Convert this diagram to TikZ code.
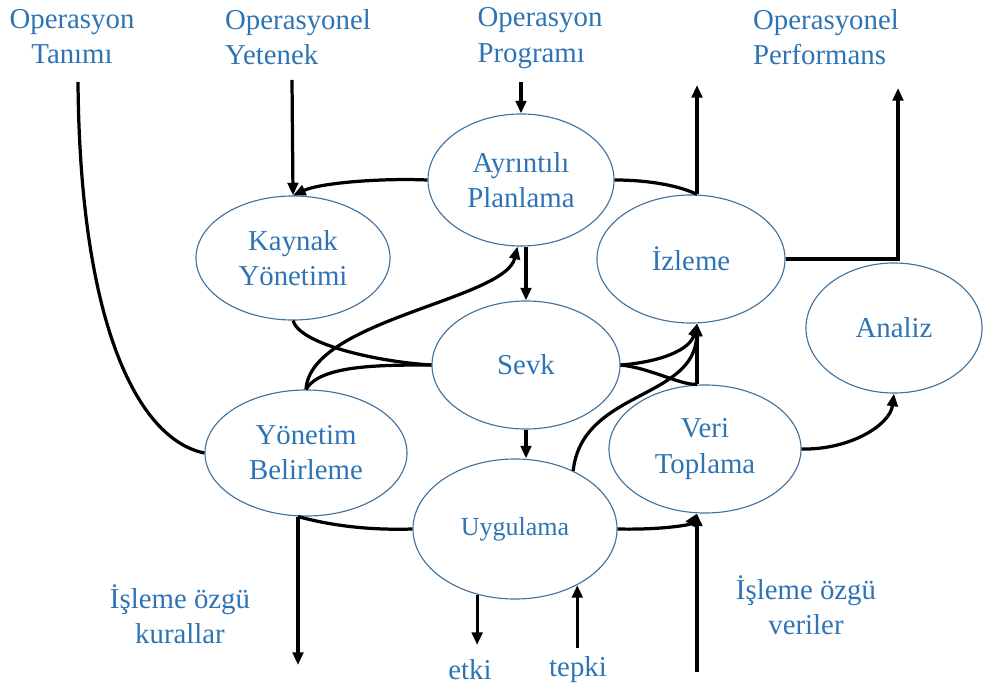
\documentclass[tikz,border=0pt]{standalone}
\usepackage{fontspec}
\setmainfont{Liberation Serif}
\usetikzlibrary{shapes.geometric,arrows.meta}
\definecolor{labelblue}{RGB}{46,116,181}
\definecolor{rimblue}{RGB}{65,113,156}
\tikzset{
  stage/.style={ellipse, draw=rimblue, line width=0.8pt, text=labelblue,
    align=center, inner sep=0pt, font=\fontsize{20.5}{25}\selectfont},
  caption/.style={text=labelblue, inner sep=0pt,
    font=\fontsize{20.5}{25}\selectfont},
  flow/.style={line width=2.3pt, draw=black},
  tip/.style={-{Triangle[length=9pt,width=7.5pt]}},
}
\begin{document}
\begin{tikzpicture}[x=0.025cm,y=-0.025cm]
\useasboundingbox (0,0) rectangle (984,688);

% stages of the cycle
\node[stage, minimum width=4.65cm, minimum height=3.3cm]  (plan) at (521,180) {Ayrıntılı\\Planlama};
\node[stage, minimum width=4.85cm, minimum height=3.1cm]  (kay)  at (293,258) {Kaynak\\Yönetimi};
\node[stage, minimum width=4.7cm,  minimum height=3.2cm]  (izl)  at (691,259) {İzleme};
\node[stage, minimum width=4.7cm,  minimum height=3.2cm]  (sevk) at (526,365) {Sevk};
\node[stage, minimum width=4.4cm,  minimum height=3.25cm] (anl)  at (894,328) {Analiz};
\node[stage, minimum width=5.05cm, minimum height=3.15cm] (yon)  at (306,453) {Yönetim\\Belirleme};
\node[stage, minimum width=5.1cm,  minimum height=3.5cm, font=\fontsize{18.5}{23}\selectfont] (uyg) at (515,529) {Uygulama};
\node[stage, minimum width=4.8cm,  minimum height=3.2cm]  (veri) at (705,449) {Veri\\Toplama};

% inputs and outputs
\node[caption, align=center] (tTan)  at (72,37)  {Operasyon\\Tanımı};
\node[caption, align=left]   (tYet)  at (298,37) {Operasyonel\\Yetenek};
\node[caption, align=left]   (tProg) at (540,38) {Operasyon\\Programı};
\node[caption, align=left]   (tPerf) at (826,37) {Operasyonel\\Performans};
\node[caption, align=center] (tKur)  at (180,614) {İşleme özgü\\kurallar};
\node[caption, align=center] (tVer)  at (806,605) {İşleme özgü\\veriler};
\node[caption] (tEtki) at (470,670) {etki};
\node[caption] (tTep)  at (578,670) {tepki};

% free line ends
\coordinate (cTan)  at (78,82);
\coordinate (cYet)  at (292,80);
\coordinate (cProg) at (521,82);
\coordinate (cMon)  at (697,85);
\coordinate (cPerf) at (898,88);
\coordinate (cRul)  at (298,665);
\coordinate (cDat)  at (697,672);
\coordinate (cEtki) at (477,645);
\coordinate (cTep)  at (576,648);
\coordinate (vx)    at (697,0);

% connectors
\draw[flow] (cTan) .. controls (80,330) and (140,440) .. (yon.west);
\draw[flow,tip] (cYet) -- (kay.north);
\draw[flow,tip] (plan.west) .. controls (380,178) and (320,183) .. (kay.north);
\draw[flow,tip] (cProg) -- (plan.north);
\draw[flow] (plan.east) .. controls (650,180) and (680,186) .. (izl.north -| vx);
\draw[flow,tip] (izl.north -| vx) -- (cMon);
\draw[flow,tip] (izl.east) -| (cPerf);
\draw[flow,tip] (sevk.north |- plan.south) -- (sevk.north);
\draw[flow,tip] (sevk.south) -- (sevk.south |- uyg.north);
\draw[flow,tip] (yon.north) .. controls (310,320) and (505,300) .. (plan.-93);
\draw[flow] (yon.north) .. controls (320,365) and (380,365) .. (sevk.west);
\draw[flow] (kay.south) .. controls (300,345) and (380,362) .. (sevk.west);
\draw[flow,tip] (sevk.east) .. controls (660,362) and (690,350) .. (izl.south -| vx);
\draw[flow] (sevk.east) .. controls (650,368) and (680,385) .. (veri.north -| vx);
\draw[flow,tip] (veri.north -| vx) -- (izl.south -| vx);
\draw[flow,tip] (uyg.45) .. controls (582,390) and (695,400) .. (izl.south -| vx);
\draw[flow] (yon.south -| cRul) .. controls (340,528) and (380,530) .. (uyg.west);
\draw[flow,tip] (yon.south -| cRul) -- (cRul);
\draw[flow,tip] (uyg.east) .. controls (660,530) and (690,525) .. (veri.south -| vx);
\draw[flow,tip] (cDat) -- (veri.south -| vx);
\draw[flow,tip] (veri.east) .. controls (850,450) and (890,425) .. (anl.south);
\draw[flow,tip] (uyg.-120) -- (uyg.-120 |- cEtki);
\draw[flow,tip] (uyg.-42.5 |- cTep) -- (uyg.-42.5);
\end{tikzpicture}
\end{document}
